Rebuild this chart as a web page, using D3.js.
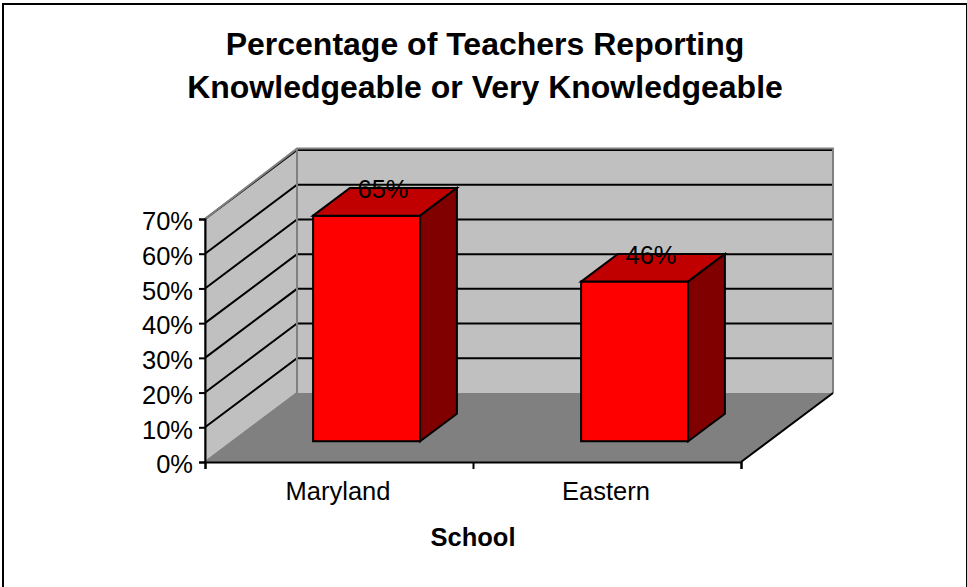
<!DOCTYPE html>
<html>
<head>
<meta charset="utf-8">
<script src="https://cdn.jsdelivr.net/npm/d3@7"></script>
<style>
  html, body { margin: 0; padding: 0; background: #fff; overflow: hidden; }
  svg { display: block; }
  text { font-family: "Liberation Sans", Arial, sans-serif; fill: #000; }
</style>
</head>
<body>
<div id="container"></div>
<script>
const WIDTH = 967;
const HEIGHT = 587;

const titleLines = ['Percentage of Teachers Reporting', 'Knowledgeable or Very Knowledgeable'];
const schools = ['Maryland', 'Eastern'];
const percentages = [65, 46];
const percentTicks = [0, 10, 20, 30, 40, 50, 60, 70];
const xAxisTitle = 'School';

// front edge of the box, back wall is pushed by DEPTH
const FRONT = { LEFT: 205, RIGHT: 741, TOP: 219, BOTTOM: 462 };
const DEPTH = { X: 92, Y: -69 };
const LABEL_SIZE = 25.5;

const svg = d3.select('#container')
              .append('svg')
                .attr('width', WIDTH)
                .attr('height', HEIGHT);

const xscale = d3.scaleBand()
                 .domain(schools)
                 .range([FRONT.LEFT, FRONT.RIGHT]);

const yscale = d3.scaleLinear()
                 .domain([0, 70])
                 .range([FRONT.BOTTOM, FRONT.TOP]);

const dx = d3.scaleLinear().domain([0, 1]).range([0, DEPTH.X]);
const dy = d3.scaleLinear().domain([0, 1]).range([0, DEPTH.Y]);

// project a point: x on the front edge, value, depth 0..1
const project = (x, value, depth) => [x + dx(depth), yscale(value) + dy(depth)];
const path = pts => d3.line()(pts) + 'Z';

// frame
svg.append('path')
   .attr('d', `M3,${HEIGHT}V4H${WIDTH}V${HEIGHT}`)
   .attr('fill', 'none')
   .attr('stroke', '#000')
   .attr('stroke-width', 2);

// title
svg.append('g')
   .selectAll('text')
   .data(titleLines)
   .enter()
   .append('text')
     .attr('x', 485)
     .attr('y', (d, i) => 55 + i * 42.5)
     .attr('text-anchor', 'middle')
     .attr('font-size', 32)
     .attr('font-weight', 'bold')
     .text(d => d);

// walls and floor
const WALL = '#C0C0C0';
const EDGE = '#808080';
const WALL_TOP = 70.4; // grey rim sits just above the 70% gridline

svg.append('path')
   .attr('d', path([project(FRONT.LEFT, 0, 0), project(FRONT.LEFT, 70, 0),
                    project(FRONT.LEFT, WALL_TOP, 1), project(FRONT.LEFT, 0, 1)]))
   .attr('fill', WALL);

svg.append('path')
   .attr('d', path([project(FRONT.LEFT, 0, 1), project(FRONT.LEFT, WALL_TOP, 1),
                    project(FRONT.RIGHT, WALL_TOP, 1), project(FRONT.RIGHT, 0, 1)]))
   .attr('fill', WALL);

svg.append('path')
   .attr('d', path([project(FRONT.LEFT, 0, 0), project(FRONT.LEFT, 0, 1),
                    project(FRONT.RIGHT, 0, 1), project(FRONT.RIGHT, 0, 0)]))
   .attr('fill', EDGE);

// gridlines run up the side wall and along the back wall
svg.append('g')
   .selectAll('path')
   .data(percentTicks.slice(1))
   .enter()
   .append('path')
     .attr('d', d => d3.line()([project(FRONT.LEFT, d, 0),
                                project(FRONT.LEFT, d, 1),
                                project(FRONT.RIGHT, d, 1)]))
     .attr('fill', 'none')
     .attr('stroke', '#000')
     .attr('stroke-width', 2);

// grey rim of the walls goes over the gridlines
svg.append('path')
   .attr('d', d3.line()([project(FRONT.LEFT, 0, 0), project(FRONT.LEFT, 70, 0),
                         project(FRONT.LEFT, WALL_TOP, 1), project(FRONT.RIGHT, WALL_TOP, 1),
                         project(FRONT.RIGHT, 0, 1)]))
   .attr('fill', 'none')
   .attr('stroke', EDGE)
   .attr('stroke-width', 2);

svg.append('path')
   .attr('d', d3.line()([project(FRONT.LEFT, 0, 0), project(FRONT.LEFT, 0, 1),
                         project(FRONT.LEFT, WALL_TOP, 1)]))
   .attr('fill', 'none')
   .attr('stroke', EDGE)
   .attr('stroke-width', 2);

// right edge of the floor
svg.append('path')
   .attr('d', d3.line()([project(FRONT.RIGHT, 0, 0), project(FRONT.RIGHT, 0, 1)]))
   .attr('stroke', '#000')
   .attr('stroke-width', 2);

// bars sit between these depths
const BAR_FRONT = 0.3;
const BAR_BACK = 0.7;
const BAR_WIDTH = 107;

const bars = svg.append('g')
                .selectAll('g')
                .data(schools.map((s, i) => ({ school: s, value: percentages[i] })))
                .enter()
                .append('g');

const barLeft = d => xscale(d.school) + (xscale.bandwidth() - BAR_WIDTH) / 2;

const face = (selection, fill, corners) => selection.append('path')
    .attr('d', d => path(corners(d)))
    .attr('fill', fill)
    .attr('stroke', '#000')
    .attr('stroke-width', 2)
    .attr('stroke-linejoin', 'miter');

face(bars, '#FF0000', d => [
  project(barLeft(d), 0, BAR_FRONT), project(barLeft(d), d.value, BAR_FRONT),
  project(barLeft(d) + BAR_WIDTH, d.value, BAR_FRONT), project(barLeft(d) + BAR_WIDTH, 0, BAR_FRONT)
]);
face(bars, '#C00000', d => [
  project(barLeft(d), d.value, BAR_FRONT), project(barLeft(d), d.value, BAR_BACK),
  project(barLeft(d) + BAR_WIDTH, d.value, BAR_BACK), project(barLeft(d) + BAR_WIDTH, d.value, BAR_FRONT)
]);
face(bars, '#800000', d => [
  project(barLeft(d) + BAR_WIDTH, 0, BAR_FRONT), project(barLeft(d) + BAR_WIDTH, d.value, BAR_FRONT),
  project(barLeft(d) + BAR_WIDTH, d.value, BAR_BACK), project(barLeft(d) + BAR_WIDTH, 0, BAR_BACK)
]);

// value labels
bars.append('text')
    .attr('x', d => xscale(d.school) + xscale.bandwidth() / 2 + dx(0.5) - 2)
    .attr('y', d => yscale(d.value) + dy(BAR_BACK) + 10)
    .attr('text-anchor', 'middle')
    .attr('font-size', LABEL_SIZE)
    .text(d => `${d.value}%`);

// axes
const axisLeft = d3.axisLeft(yscale)
                   .tickValues(percentTicks)
                   .tickFormat(d => `${d}%`)
                   .tickSizeOuter(0)
                   .tickSize(6)
                   .tickPadding(6);

const axisBottom = d3.axisBottom(d3.scalePoint().domain([0, 1, 2]).range([FRONT.LEFT, FRONT.RIGHT]))
                     .tickFormat('')
                     .tickSizeOuter(0)
                     .tickSize(7);

svg.append('g')
   .attr('transform', `translate(${FRONT.LEFT}, 0)`)
   .call(axisLeft)
   .call(g => g.selectAll('text').attr('font-size', LABEL_SIZE).attr('dy', '0.42em').attr('fill', '#000'))
   .call(g => g.selectAll('line, path').attr('stroke', '#000').attr('stroke-width', 2));

svg.append('g')
   .attr('transform', `translate(0, ${FRONT.BOTTOM})`)
   .call(axisBottom)
   .call(g => g.selectAll('line, path').attr('stroke', '#000').attr('stroke-width', 2));

// category names
svg.append('g')
   .selectAll('text')
   .data(schools)
   .enter()
   .append('text')
     .attr('x', d => xscale(d) + xscale.bandwidth() / 2 - 1)
     .attr('y', 500)
     .attr('text-anchor', 'middle')
     .attr('font-size', LABEL_SIZE)
     .text(d => d);

svg.append('text')
   .attr('x', 473)
   .attr('y', 546)
   .attr('text-anchor', 'middle')
   .attr('font-size', LABEL_SIZE)
   .attr('font-weight', 'bold')
   .text(xAxisTitle);
</script>
</body>
</html>
